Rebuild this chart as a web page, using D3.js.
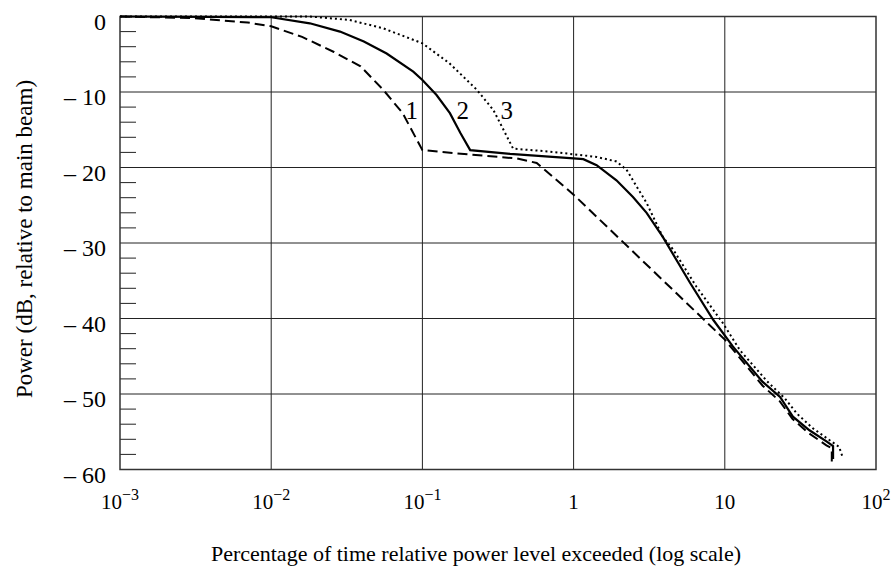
<!DOCTYPE html>
<html>
<head>
<meta charset="utf-8">
<script src="https://cdn.jsdelivr.net/npm/d3@7"></script>
<style>
  body { margin: 0; background: #fff; }
  text { font-family: "Liberation Serif", "Times New Roman", serif; fill: #000; }
</style>
</head>
<body>
<svg id="chart" width="891" height="568"></svg>
<script>
// Curve 1 (dashed), 2 (solid), 3 (dotted): [percentage of time, power dB]
const curve1 = [
  [0.001, 0], [0.003, -0.2], [0.007, -0.8], [0.01, -1.3], [0.016, -2.7],
  [0.026, -4.7], [0.039, -6.6], [0.055, -9.7], [0.074, -12.8], [0.1, -17.7],
  [0.21, -18.3], [0.42, -18.8], [0.57, -19.4], [1.0, -23.6], [10, -42.8],
  [17.8, -48.9], [23.2, -51], [28, -53.3], [36, -55.2], [47, -56.8],
  [51, -57.2], [51, -59]
];
const curve2 = [
  [0.001, 0], [0.01, -0.1], [0.018, -0.9], [0.0285, -2.0], [0.041, -3.3],
  [0.058, -4.9], [0.087, -7.3], [0.1, -8.4], [0.124, -10.4], [0.152, -12.8],
  [0.178, -15.4], [0.207, -17.7], [0.38, -18.2], [1.0, -18.8], [1.16, -18.9],
  [1.42, -19.7], [1.92, -21.7], [2.47, -23.9], [3.04, -26.0], [3.89, -29.2],
  [5.9, -35.3], [8.4, -40.2], [11.3, -43.7], [17.8, -48.4], [23.2, -50.4],
  [28.2, -53], [36.3, -54.8], [47.3, -56.3], [52, -56.9], [52, -58.6]
];
const curve3 = [
  [0.001, 0], [0.018, 0], [0.033, -0.46], [0.055, -1.56], [0.1, -3.55],
  [0.151, -6.2], [0.229, -9.7], [0.295, -12.4], [0.398, -17.5], [0.7, -17.9],
  [1.42, -18.6], [1.92, -19.2], [2.24, -20.3], [3.04, -24.7], [3.89, -29.2],
  [4.57, -30.9], [6.5, -35.8], [9.7, -40.6], [12.6, -44.2], [19, -48.3],
  [25, -50.6], [30, -52.6], [38, -54.5], [50, -56.2], [57, -57], [60, -58.3]
];

const xTicks = [1e-3, 1e-2, 1e-1, 1, 10, 100];
const xTickBase = ['10', '10', '10', '1', '10', '10'];
const xTickExp = ['−3', '−2', '−1', '', '', '2'];
const yTicks = [0, -10, -20, -30, -40, -50, -60];
const yMinor = d3.range(-58, 0, 2).filter(v => v % 10 !== 0);

const curveLabels = [
  { text: '1', x: 0.085, y: -12.4 },
  { text: '2', x: 0.185, y: -12.4 },
  { text: '3', x: 0.361, y: -12.4 }
];

const svg = d3.select('#chart');
const plotLeft = 120, plotRight = 876, plotTop = 16.5, plotBottom = 469.5;

const x = d3.scaleLog().domain([1e-3, 1e2]).range([plotLeft, plotRight]);
const y = d3.scaleLinear().domain([-60, 0]).range([plotBottom, plotTop]);

// Grid
const grid = svg.append('g');
grid.selectAll('line.v')
  .data(xTicks.slice(1, -1))
  .join('line')
  .attr('x1', d => x(d)).attr('x2', d => x(d))
  .attr('y1', plotTop).attr('y2', plotBottom)
  .attr('stroke', '#222').attr('stroke-width', 1);
grid.selectAll('line.h')
  .data(yTicks.slice(1, -1))
  .join('line')
  .attr('x1', plotLeft).attr('x2', plotRight)
  .attr('y1', d => y(d)).attr('y2', d => y(d))
  .attr('stroke', '#222').attr('stroke-width', 1);

// Minor ticks on left axis
grid.selectAll('line.m')
  .data(yMinor)
  .join('line')
  .attr('x1', plotLeft).attr('x2', plotLeft + 16)
  .attr('y1', d => y(d)).attr('y2', d => y(d))
  .attr('stroke', '#222').attr('stroke-width', 1);

// Frame
svg.append('rect')
  .attr('x', plotLeft).attr('y', plotTop)
  .attr('width', plotRight - plotLeft).attr('height', plotBottom - plotTop)
  .attr('fill', 'none').attr('stroke', '#333').attr('stroke-width', 1.5);

// Y tick labels (sit a little below their grid line, as in the original)
svg.append('g').selectAll('text')
  .data(yTicks)
  .join('text')
  .attr('x', 106)
  .attr('y', d => y(d) + 5)
  .attr('dy', '0.35em')
  .attr('text-anchor', 'end')
  .attr('font-size', 24)
  .text(d => d === 0 ? '0' : '– ' + Math.abs(d));

// X tick labels
const xl = svg.append('g').selectAll('text')
  .data(xTicks)
  .join('text')
  .attr('x', d => x(d))
  .attr('y', 509)
  .attr('text-anchor', 'middle')
  .attr('font-size', 21);
xl.append('tspan').text((d, i) => xTickBase[i]);
xl.append('tspan')
  .attr('dy', -9)
  .attr('font-size', 16)
  .text((d, i) => xTickExp[i]);

// Axis titles
svg.append('text')
  .attr('x', (plotLeft + plotRight) / 2 - 22)
  .attr('y', 561)
  .attr('text-anchor', 'middle')
  .attr('font-size', 22)
  .text('Percentage of time relative power level exceeded (log scale)');

svg.append('text')
  .attr('transform', `translate(32,${(plotTop + plotBottom) / 2 - 4}) rotate(-90)`)
  .attr('text-anchor', 'middle')
  .attr('font-size', 23)
  .text('Power (dB, relative to main beam)');

// Curves
const line = d3.line().x(d => x(d[0])).y(d => y(d[1]));
const curves = svg.append('g').attr('fill', 'none').attr('stroke', '#000');
curves.append('path').datum(curve3).attr('d', line)
  .attr('stroke-width', 2).attr('stroke-dasharray', '2,3');
curves.append('path').datum(curve1).attr('d', line)
  .attr('stroke-width', 2).attr('stroke-dasharray', '10,5');
curves.append('path').datum(curve2).attr('d', line)
  .attr('stroke-width', 2.2);

// Curve labels
svg.append('g').selectAll('text')
  .data(curveLabels)
  .join('text')
  .attr('x', d => x(d.x))
  .attr('y', d => y(d.y))
  .attr('dy', '0.35em')
  .attr('text-anchor', 'middle')
  .attr('font-size', 25)
  .text(d => d.text);
</script>
</body>
</html>
